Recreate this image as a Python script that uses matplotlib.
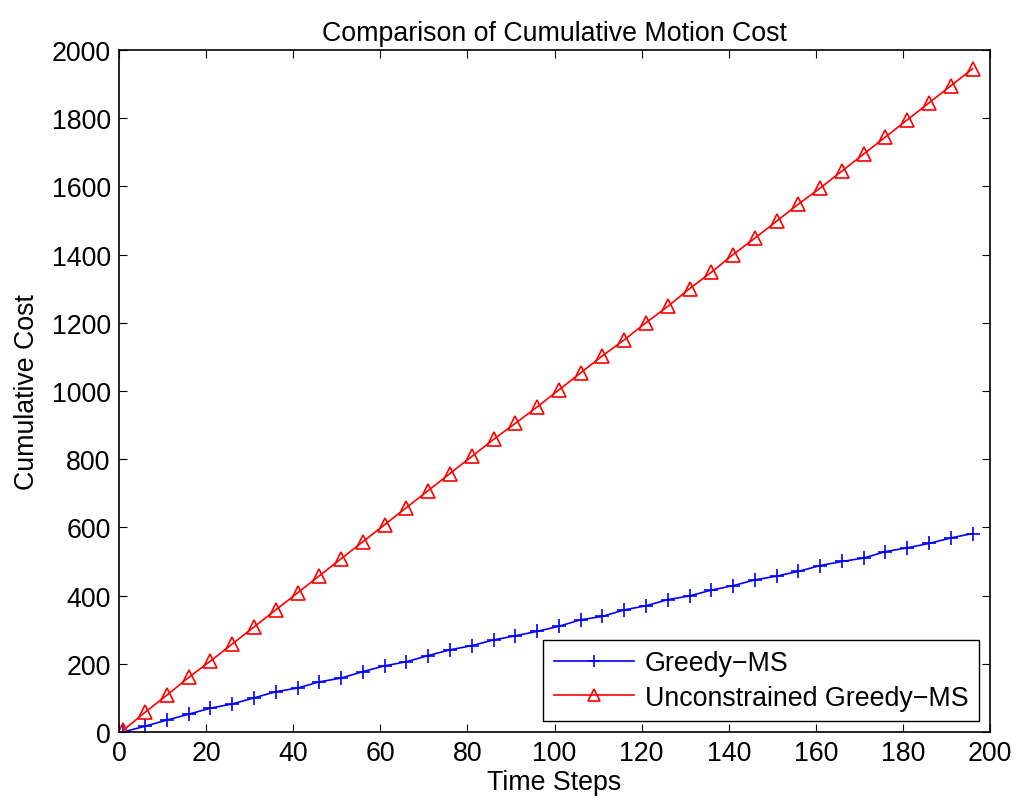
import numpy as np
import matplotlib.pyplot as plt

plt.rcParams['font.family'] = ['Liberation Sans', 'DejaVu Sans']

# pas de temps (un marqueur tous les 5 pas)
steps = list(range(1, 197, 5))

# cout cumule - Greedy-MS
greedy = [0, 17, 35, 52, 70, 82, 100, 118, 129, 147,
          158, 177, 194, 206, 224, 241, 253, 270, 282, 295,
          310, 329, 339, 358, 370, 388, 399, 416, 429, 446,
          457, 471, 488, 500, 510, 529, 540, 553, 569, 582]

# cout cumule - Unconstrained Greedy-MS
unconstrained = [5, 58, 108, 160, 208, 258, 308, 358, 408, 458,
                 508, 558, 608, 658, 708, 758, 808, 858, 905, 953,
                 1003, 1053, 1103, 1150, 1200, 1248, 1300, 1348, 1400, 1448,
                 1498, 1548, 1595, 1645, 1695, 1745, 1795, 1845, 1895, 1945]

fs = 19.3

fig = plt.figure(figsize=(10.18, 8.03), dpi=100)
ax = fig.add_axes([0.1169, 0.0872, 0.8556, 0.8493])

ax.plot(steps, greedy, color='blue', marker='+', markersize=10, markeredgewidth=1.2,
        linewidth=1.2, label='Greedy\u2212MS')
ax.plot(steps, unconstrained, color='red', marker='^', markersize=10, markerfacecolor='none',
        markeredgewidth=1.2, linewidth=1.2, label='Unconstrained Greedy\u2212MS')

ax.set_xlim(0, 200)
ax.set_ylim(0, 2000)
ax.set_xticks(range(0, 201, 20))
ax.set_yticks(range(0, 2001, 200))
ax.tick_params(direction='in', top=True, right=True, labelsize=fs, length=6, pad=6)
for s in ax.spines.values():
    s.set_linewidth(1.2)

ax.set_xlabel('Time Steps', fontsize=fs, labelpad=2)
ax.set_ylabel('Cumulative Cost', fontsize=fs, labelpad=8)
ax.set_title('Comparison of Cumulative Motion Cost', fontsize=fs, pad=7)

leg = ax.legend(loc='lower right', fontsize=fs, handlelength=3.0, handletextpad=0.4,
                borderpad=0.4, labelspacing=0.3, fancybox=False, markerscale=0.8,
                framealpha=1, edgecolor='black', borderaxespad=0.4)
leg.get_frame().set_linewidth(1.0)

fig.savefig('out.png', dpi=100)
